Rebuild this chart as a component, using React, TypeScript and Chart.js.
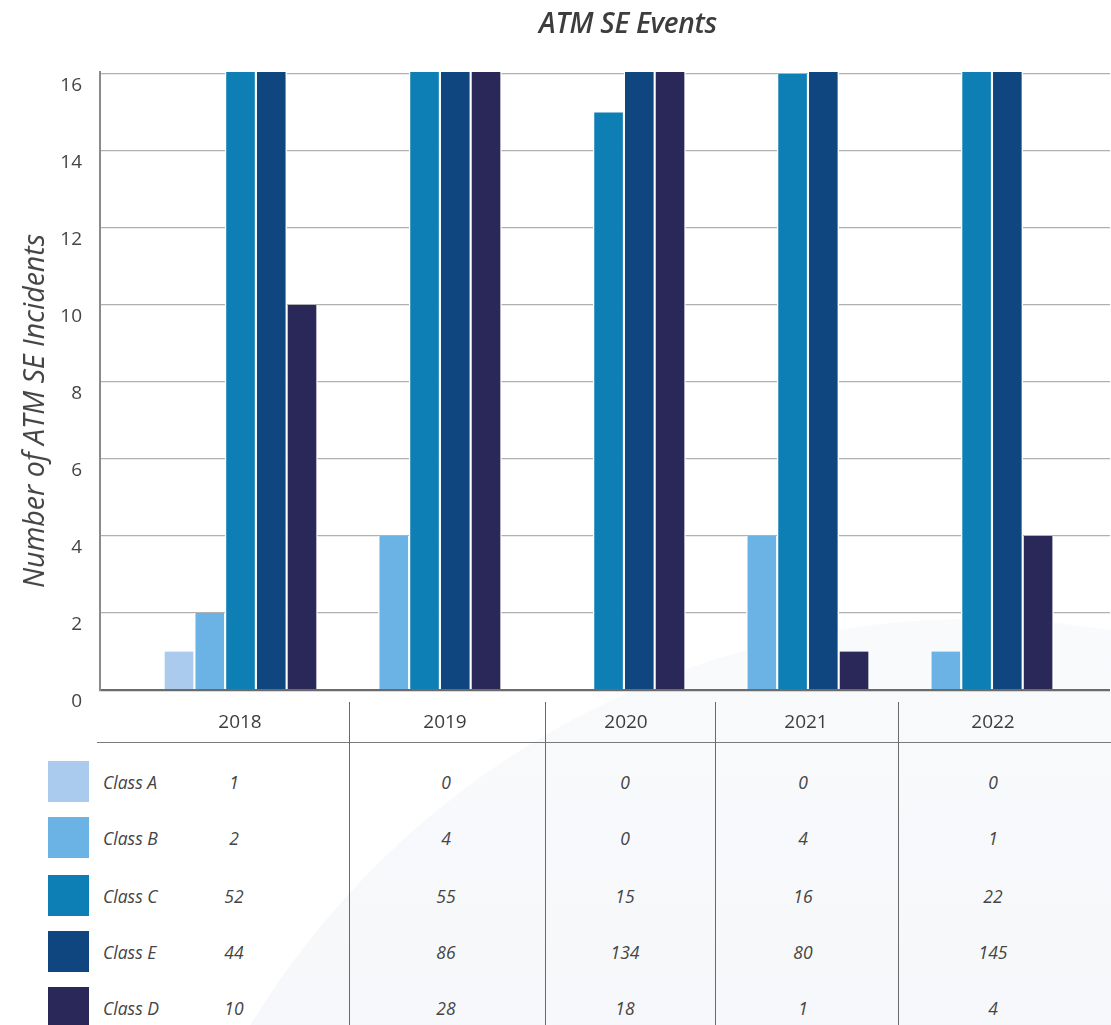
import React, { useEffect, useRef } from 'react';
import { Chart, registerables } from 'chart.js';

Chart.register(...registerables);

// ---- Data ----
const years = ['2018', '2019', '2020', '2021', '2022'];
const seriesNames = ['Class A', 'Class B', 'Class C', 'Class E', 'Class D'];
const classA = [1, 0, 0, 0, 0];
const classB = [2, 4, 0, 4, 1];
const classC = [52, 55, 15, 16, 22];
const classE = [44, 86, 134, 80, 145];
const classD = [10, 28, 18, 1, 4];
const seriesColors = ['#aacbed', '#6bb3e4', '#0e7fb5', '#10467f', '#292858'];
const yStep = 2;
const yTop = 16.05;

// ---- Layout (positions only) ----
const X_MIN = -0.7636;
const X_MAX = 4.725;
const colDividers = [349, 545, 715, 898];
const valueCenters = [234, 446, 625, 803, 993];
const yearCenters = [240, 445, 626, 806, 993];
const rowCenters = [782, 838, 896, 952, 1008];

const FONT = '"Open Sans", "DejaVu Sans", sans-serif';

export default function App() {
  const ref = useRef<HTMLCanvasElement>(null);

  useEffect(() => {
    const canvas = ref.current;
    if (!canvas) return;
    const seriesData = [classA, classB, classC, classE, classD];
    const chart = new Chart(canvas, {
      type: 'bar',
      data: {
        datasets: seriesNames.map((name, si) => ({
          label: name,
          data: seriesData[si].map((v, i) => ({ x: i, y: v })),
          backgroundColor: seriesColors[si],
          borderColor: '#ffffff',
          borderWidth: { top: 0, bottom: 0, left: 1.4, right: 1.4 },
          barThickness: 30.75,
          clip: 0,
        })) as any,
      },
      options: {
        animation: false,
        responsive: false,
        maintainAspectRatio: false,
        layout: { padding: { top: 72, bottom: 30, left: 0, right: 1 } },
        plugins: {
          legend: { display: false },
          tooltip: { enabled: false },
          title: { display: false },
        },
        scales: {
          x: {
            type: 'linear',
            min: X_MIN,
            max: X_MAX,
            offset: false,
            display: false,
            grid: { display: false },
          },
          y: {
            min: 0,
            max: yTop,
            ticks: {
              stepSize: yStep,
              includeBounds: false,
              padding: 18,
              labelOffset: 12,
              color: '#454545',
              font: { family: FONT, size: 19 },
            },
            grid: {
              drawTicks: false,
              color: (c: any) => (c.tick && c.tick.value === 0 ? '#6b6b6b' : '#b0b0b0'),
              lineWidth: (c: any) => (c.tick && c.tick.value === 0 ? 2.2 : 1.2),
            },
            border: { display: true, color: '#8a8a8a', width: 2 },
            afterFit: (scale: any) => {
              scale.width = 100;
            },
          },
        },
      } as any,
    });
    return () => chart.destroy();
  }, []);

  const seriesData = [classA, classB, classC, classE, classD];

  return (
    <div
      style={{
        position: 'absolute',
        left: 0,
        top: 0,
        width: 1111,
        height: 1025,
        overflow: 'hidden',
        background: '#ffffff',
        fontFamily: FONT,
        color: '#444444',
      }}
    >
      {/* decorative background arc */}
      <div
        style={{
          position: 'absolute',
          left: 127,
          top: 619,
          width: 1692,
          height: 1692,
          borderRadius: '50%',
          background: 'linear-gradient(180deg, #f9fafc 0%, #f4f6f9 40%)',
        }}
      />
      <canvas
        ref={ref}
        width={1111}
        height={720}
        style={{ position: 'absolute', left: 0, top: 0, width: 1111, height: 720, display: 'block' }}
      />
      {/* chart title */}
      <div
        style={{
          position: 'absolute',
          left: 628,
          top: 22,
          transform: 'translate(-50%, -50%)',
          fontSize: 28,
          fontStyle: 'italic',
          fontWeight: 600,
          letterSpacing: -0.3,
          color: '#3d3d3d',
          whiteSpace: 'nowrap',
        }}
      >
        ATM SE Events
      </div>
      {/* y axis title */}
      <div
        style={{
          position: 'absolute',
          left: 33,
          top: 411,
          transform: 'translate(-50%, -50%) rotate(-90deg)',
          fontSize: 28.5,
          fontStyle: 'italic',
          color: '#444444',
          whiteSpace: 'nowrap',
        }}
      >
        Number of ATM SE Incidents
      </div>

      {/* table lines */}
      <div style={{ position: 'absolute', left: 97, top: 742, width: 1014, height: 1, background: '#7a7a7a' }} />
      {colDividers.map((x, i) => (
        <div key={'v' + i} style={{ position: 'absolute', left: x, top: 702, width: 1, height: 323, background: '#6a6a6a' }} />
      ))}

      {/* year headers */}
      {years.map((y, i) => (
        <div
          key={'y' + i}
          style={{
            position: 'absolute',
            left: yearCenters[i],
            top: 721,
            transform: 'translate(-50%, -50%)',
            fontSize: 19,
            color: '#3d3d3d',
          }}
        >
          {y}
        </div>
      ))}

      {/* rows */}
      {seriesNames.map((name, si) => (
        <React.Fragment key={'r' + si}>
          <div
            style={{
              position: 'absolute',
              left: 48,
              top: rowCenters[si] - 21,
              width: 41,
              height: 41,
              background: seriesColors[si],
            }}
          />
          <div
            style={{
              position: 'absolute',
              left: 103,
              top: rowCenters[si],
              transform: 'translateY(-50%)',
              fontSize: 17.5,
              fontStyle: 'italic',
              color: '#444444',
              whiteSpace: 'nowrap',
            }}
          >
            {name}
          </div>
          {seriesData[si].map((v, i) => (
            <div
              key={'c' + si + '-' + i}
              style={{
                position: 'absolute',
                left: valueCenters[i],
                top: rowCenters[si],
                transform: 'translate(-50%, -50%)',
                fontSize: 17.5,
                fontStyle: 'italic',
                color: '#444444',
              }}
            >
              {v}
            </div>
          ))}
        </React.Fragment>
      ))}
    </div>
  );
}
